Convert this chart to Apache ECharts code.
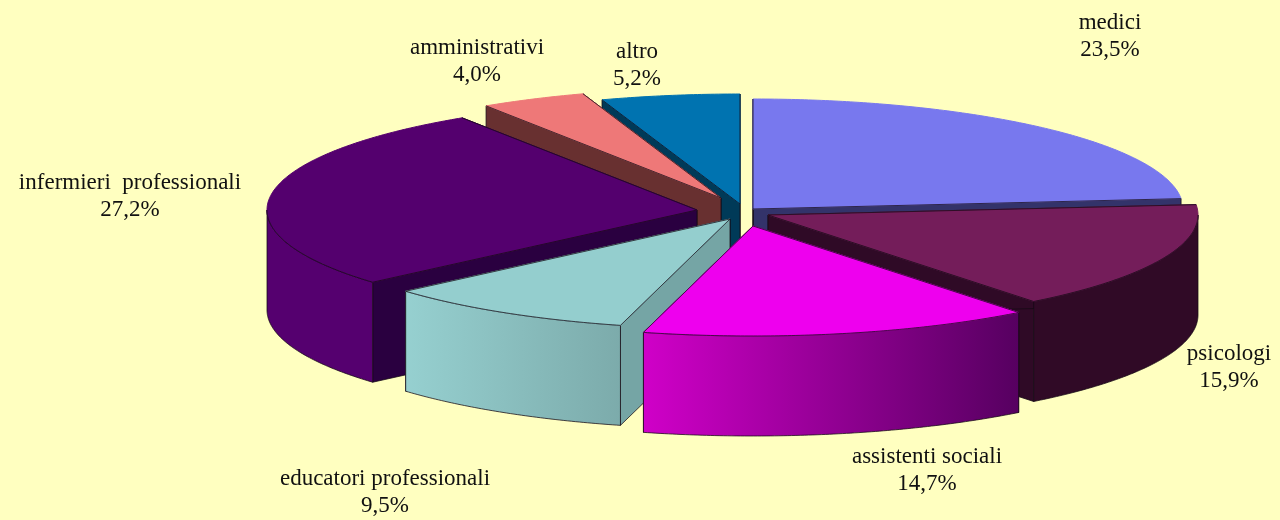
<!DOCTYPE html>
<html><head><meta charset="utf-8">
<style>html,body{margin:0;padding:0;background:#ffffc0}#c{width:1280px;height:520px}</style>
<script src="https://cdn.jsdelivr.net/npm/echarts@6/dist/echarts.min.js"></script>
</head><body><div id="c"></div>
<script>
// Data, clockwise from 12 o'clock
const categories = ['medici','psicologi','assistenti sociali','educatori professionali','infermieri  professionali','amministrativi','altro'];
const shares = [23.5,15.9,14.7,9.5,27.2,4.0,5.2];

// Layout and style
const CENTER = [735,210], RX = 430, RY = 110, DEPTH = 100;
const explode = [[18,-1],[33,5],[18,16],[-5,9],[-38,0],[-14,-12],[5,-6]];
const drawRank = [0,4,6,5,3,2,1];
const topColor = ['#7878ee','#741d5a','#ee00ee','#94cece','#54006e','#ee7878','#0073b0'];
const cutColor = ['#33336a','#2f0a26','#5a0060','#75a5a5','#2a0040','#683030','#003a58'];
const wallColor = [['#5a5ab0','#5a5ab0'],['#300a26','#300a26'],['#d000c8','#560060'],['#96d0d0','#7cabab'],['#55006f','#55006f'],['#683030','#683030'],['#003a58','#003a58']];
const labelPos = [[1110,36],[1229,367],[927,470],[385,492],[130,196],[477,61],[637,65]];
const fontCss = '23px "Liberation Serif"';

const cumulative = []; shares.reduce((s,v,i)=>(cumulative[i]=s,s+v),0);
const total = shares.reduce((a,b)=>a+b,0);
const rad = p => p/total*2*Math.PI;

function rimPoints(cx,cy,a0,a1,dz){
  const n = Math.max(2,Math.ceil((a1-a0)/0.01)), pts=[];
  for(let i=0;i<=n;i++){const a=a0+(a1-a0)*i/n;pts.push([cx+RX*Math.sin(a),cy-RY*Math.cos(a)+dz]);}
  return pts;
}
function face(points,fill,stroke,z2){
  return {type:'polygon',shape:{points},style:{fill,stroke,lineWidth:1,lineJoin:'round'},z2,silent:true};
}
function line(points,stroke,z2){
  return {type:'polyline',shape:{points},style:{fill:null,stroke,lineWidth:1},z2,silent:true};
}
function renderItem(params,api){
  const i = params.dataIndex, v = api.value(0);
  const a0 = rad(cumulative[i]), a1 = a0+rad(v);
  const cx = CENTER[0]+explode[i][0], cy = CENTER[1]+explode[i][1];
  const z = drawRank[i]*10, kids=[], edge='rgba(20,10,20,0.75)';
  const P = (a,d)=>[cx+RX*Math.sin(a),cy-RY*Math.cos(a)+d];
  // radial cut faces
  kids.push(face([[cx,cy],P(a1,0),P(a1,DEPTH),[cx,cy+DEPTH]],cutColor[i],edge,z+1));
  kids.push(face([[cx,cy],P(a0,0),P(a0,DEPTH),[cx,cy+DEPTH]],cutColor[i],edge,z+2));
  // outer wall: only the front half faces the viewer
  const w0 = Math.max(a0,Math.PI/2), w1 = Math.min(a1,1.5*Math.PI);
  if(w1>w0){
    const top = rimPoints(cx,cy,w0,w1,0), bot = rimPoints(cx,cy,w0,w1,DEPTH).reverse();
    const left = i===4 ? wallColor[i][0] : wallColor[i][0];
    const fill = new echarts.graphic.LinearGradient(0,0,1,0,[{offset:0,color:left},{offset:1,color:wallColor[i][1]}]);
    kids.push(face(top.concat(bot),fill,edge,z+3));
  }
  // top surface: no outline along the far rim
  kids.push(face([[cx,cy]].concat(rimPoints(cx,cy,a0,a1,0)),topColor[i],topColor[i],z+4));
  kids.push(line([P(a0,0),[cx,cy],P(a1,0)],edge,z+5));
  if(w1>w0) kids.push(line(rimPoints(cx,cy,w0,w1,0),edge,z+5));
  // label
  kids.push({type:'text',z2:200,silent:true,style:{
    text:categories[i]+'\n'+v.toFixed(1).replace('.',',')+'%',
    x:labelPos[i][0],y:labelPos[i][1],align:'center',verticalAlign:'middle',
    font:fontCss,lineHeight:27,fill:'#111'}});
  return {type:'group',children:kids};
}
const chart = echarts.init(document.getElementById('c'),null,{renderer:'canvas'});
chart.setOption({
  animation:false,backgroundColor:'#ffffc0',
  series:[{type:'custom',coordinateSystem:'none',renderItem,data:shares.map(v=>[v]),silent:true}]
});
</script></body></html>
